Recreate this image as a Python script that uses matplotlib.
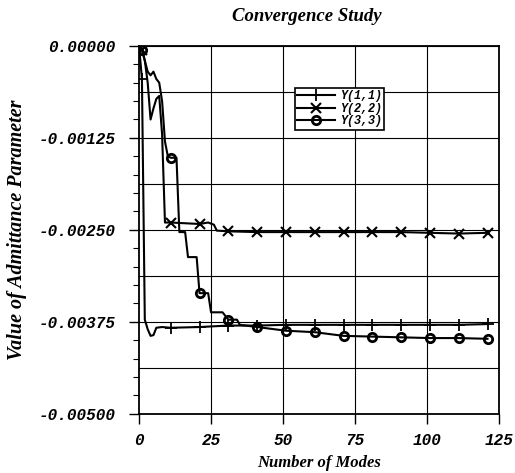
import numpy as np
import matplotlib.pyplot as plt

# Dados (modo, valor)
modes_11 = [0, 1, 2, 3, 4, 5, 6, 8, 11, 21, 31, 41, 51, 61, 71, 81, 91, 101, 111, 121]
y_11 = [0.0, -0.00045, -0.00372, -0.00385, -0.00394, -0.00393, -0.00383, -0.00382,
        -0.00383, -0.00382, -0.00380, -0.00380, -0.00379, -0.00379, -0.00379,
        -0.00379, -0.00379, -0.00379, -0.00379, -0.00378]

modes_22 = [0, 1, 2, 3, 4, 5, 6, 7, 8, 9, 10, 11, 21, 24, 26, 27, 31, 41, 51, 61,
            71, 81, 91, 101, 111, 121]
y_22 = [0.0, -0.00005, -0.0002, -0.0005, -0.00100, -0.00085, -0.00072, -0.00068,
        -0.0012, -0.0024, -0.0024, -0.0024, -0.00242, -0.00240, -0.00243, -0.00251,
        -0.00252, -0.00253, -0.00253, -0.00253, -0.00253, -0.00253, -0.00253,
        -0.00254, -0.00255, -0.00254]

modes_33 = [0, 1, 2, 3, 4, 5, 6, 7, 8, 9, 10, 11, 13, 14, 16, 17, 20, 21, 24, 25,
            29, 31, 34, 35, 41, 51, 61, 71, 81, 91, 101, 111, 121]
y_33 = [0.0, -0.00005, -0.0002, -0.00035, -0.0004, -0.00035, -0.00045, -0.0005,
        -0.00075, -0.0013, -0.0015, -0.00152, -0.00152, -0.00253, -0.00253,
        -0.00287, -0.00287, -0.00336, -0.00336, -0.00362, -0.00362, -0.00372,
        -0.00372, -0.00379, -0.00382, -0.00387, -0.00389, -0.00394, -0.00395,
        -0.00396, -0.00397, -0.00397, -0.00398]

x_ticks = [0, 25, 50, 75, 100, 125]
y_ticks = [0.0, -0.00125, -0.0025, -0.00375, -0.005]
y_tick_labels = ['0.00000', '-0.00125', '-0.00250', '-0.00375', '-0.00500']

serif = 'Liberation Serif'
mono = 'Liberation Mono'

fig = plt.figure(figsize=(5.15, 4.73), dpi=100)
ax = fig.add_axes([0.270, 0.125, 0.699, 0.778])

def marks(modes):
    # marcadores a cada 10 modos (1, 11, 21, ...)
    return [i for i, m in enumerate(modes) if m % 10 == 1]

ax.plot(modes_11, y_11, color='black', lw=1.5, marker='+', ms=9, mew=1.3,
        markevery=marks(modes_11), label='Y(1,1)')
ax.plot(modes_22, y_22, color='black', lw=1.5, marker='x', ms=7, mew=1.5,
        markevery=marks(modes_22), label='Y(2,2)')
ax.plot(modes_33, y_33, color='black', lw=1.5, marker='o', ms=6, mew=2,
        mfc='none', markevery=marks(modes_33), label='Y(3,3)')

# grelha
for v in np.arange(-0.005, 0.0001, 0.000625):
    ax.axhline(v, color='black', lw=0.8, zorder=0)
for v in x_ticks[1:-1]:
    ax.axvline(v, color='black', lw=0.8, zorder=0)

ax.set_xlim(0, 125)
ax.set_ylim(-0.005, 0.0)
ax.set_xticks(x_ticks)
ax.set_yticks(y_ticks)
ax.set_yticks(np.arange(-0.005, 0.0001, 0.00025), minor=True)
ax.set_yticklabels(y_tick_labels)
ax.tick_params(axis='both', which='major', direction='out', length=7, width=1, color='black')
ax.tick_params(axis='y', which='minor', direction='out', length=4, width=0.8)
ax.tick_params(axis='y', pad=10)
ax.tick_params(axis='x', pad=7)
for lab in ax.get_xticklabels() + ax.get_yticklabels():
    lab.set_fontfamily(mono)
    lab.set_fontweight('bold')
    lab.set_fontstyle('italic')
    lab.set_fontsize(11.5)

for s in ax.spines.values():
    s.set_linewidth(1.3)

ax.set_title('Convergence Study', fontfamily=serif, fontweight='bold',
             fontstyle='italic', fontsize=13.5, pad=18, x=0.465)
ax.set_xlabel('Number of Modes', fontfamily=serif, fontweight='bold',
              fontstyle='italic', fontsize=12, labelpad=5)
ax.set_ylabel('Value of Admittance Parameter', fontfamily=serif, fontweight='bold',
              fontstyle='italic', fontsize=14.5, labelpad=8)

leg = ax.legend(loc='upper left', bbox_to_anchor=(0.433, 0.886), frameon=True,
                fancybox=False, framealpha=1, edgecolor='black', handlelength=3.2,
                labelspacing=0.05, borderpad=0.2, handletextpad=0.4, borderaxespad=0,
                prop={'family': mono, 'weight': 'bold', 'style': 'italic', 'size': 8.5})
leg.get_frame().set_linewidth(1.2)

fig.savefig('out.png', dpi=100)
